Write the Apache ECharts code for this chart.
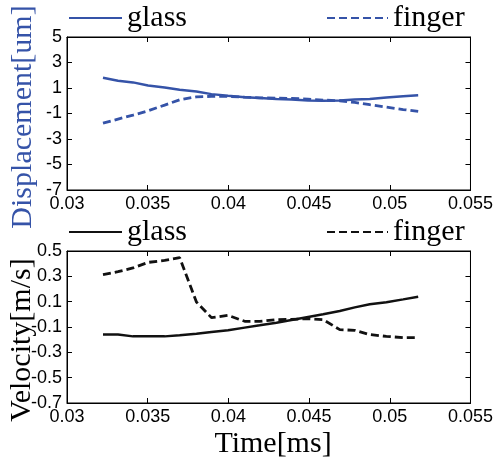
<!DOCTYPE html>
<html>
<head>
<meta charset="utf-8">
<script src="https://cdn.jsdelivr.net/npm/echarts@6/dist/echarts.min.js"></script>
<style>
html,body{margin:0;padding:0;background:#fff;}
#chart{width:496px;height:462px;}
</style>
</head>
<body>
<div id="chart"></div>
<script>
// Time samples [ms]
var time = [0.03223, 0.03316, 0.03409, 0.03502, 0.03605, 0.03698, 0.03802, 0.03895, 0.03998, 0.04101, 0.04194, 0.04298, 0.04391, 0.04494, 0.04587, 0.04690, 0.04783, 0.04876, 0.04979, 0.05083, 0.05176];
// Displacement [um]
var dispGlass = [1.80, 1.57, 1.44, 1.20, 1.04, 0.86, 0.73, 0.52, 0.39, 0.28, 0.21, 0.13, 0.10, 0.02, 0.00, 0.02, 0.10, 0.13, 0.26, 0.36, 0.44];
var dispFinger = [-1.76, -1.44, -1.13, -0.79, -0.34, 0.07, 0.31, 0.34, 0.34, 0.28, 0.23, 0.21, 0.18, 0.13, 0.05, 0.00, -0.13, -0.31, -0.50, -0.69, -0.84];
// Velocity [m/s]
var velGlass = [-0.160, -0.160, -0.174, -0.174, -0.174, -0.166, -0.153, -0.140, -0.126, -0.105, -0.087, -0.066, -0.045, -0.021, 0.000, 0.026, 0.055, 0.079, 0.095, 0.118, 0.139];
var velFinger = [0.313, 0.337, 0.366, 0.410, 0.426, 0.447, 0.097, -0.026, -0.008, -0.055, -0.055, -0.042, -0.040, -0.034, -0.042, -0.121, -0.126, -0.160, -0.174, -0.184, -0.184];
// Axis ranges / labels
var xRange = {min: 0.03, max: 0.055, interval: 0.005};
var dispRange = {min: -7, max: 5, interval: 2};
var velRange = {min: -0.7, max: 0.5, interval: 0.2};
var legendNames = ['glass', 'finger'];
var axisTitles = {disp: 'Displacement[um]', vel: 'Velocity[m/s]', time: 'Time[ms]'};

var BLUE = '#3553a8';
var BLACK = '#111111';
var SERIF = '"Liberation Serif","Times New Roman",serif';
var SANS = '"Liberation Sans",Arial,sans-serif';

function pairs(xs, ys) { return xs.map(function (x, i) { return [x, ys[i]]; }); }

var chart = echarts.init(document.getElementById('chart'));

function xAx(grid, pos, showLabel) {
  return {
    type: 'value', gridIndex: grid, position: pos,
    min: xRange.min, max: xRange.max, interval: xRange.interval,
    axisLine: {show: true, onZero: false, lineStyle: {color: '#000', width: 1}},
    axisTick: {show: true, inside: true, length: 5, lineStyle: {color: '#000', width: 1}},
    axisLabel: {show: showLabel, color: '#000', fontFamily: SANS, fontSize: 18, margin: 5},
    splitLine: {show: false}
  };
}
function yAx(grid, pos, range, showLabel) {
  return {
    type: 'value', gridIndex: grid, position: pos,
    min: range.min, max: range.max, interval: range.interval,
    axisLine: {show: true, onZero: false, lineStyle: {color: '#000', width: 1}},
    axisTick: {show: true, inside: true, length: 5, lineStyle: {color: '#000', width: 1}},
    axisLabel: {show: showLabel, color: '#000', fontFamily: SANS, fontSize: 18, margin: 5},
    splitLine: {show: false}
  };
}

function legend(top, left, name, width) {
  return {
    top: top, left: left, padding: 0, itemWidth: width, itemHeight: 14,
    selectedMode: false,
    itemStyle: {opacity: 0},
    formatter: function (n) { return n.replace(/^v-/, ''); },
    textStyle: {fontFamily: SERIF, fontSize: 30, color: '#000'},
    data: [name]
  };
}

function title(x, y, text, color, rot) {
  return {
    type: 'text', x: x, y: y, rotation: rot ? Math.PI / 2 : 0, silent: true,
    style: {text: text, fill: color, font: '30px ' + SERIF, align: 'center', verticalAlign: 'middle'}
  };
}

var option = {
  animation: false,
  backgroundColor: '#fff',
  grid: [
    {left: 67, right: 25, top: 37, height: 153, show: true, borderColor: '#000', borderWidth: 1, backgroundColor: 'transparent'},
    {left: 67, right: 25, top: 251, height: 152, show: true, borderColor: '#000', borderWidth: 1, backgroundColor: 'transparent'}
  ],
  legend: [
    legend(3, 68, legendNames[0], 53),
    legend(3, 326, legendNames[1], 61),
    legend(217, 68, 'v-' + legendNames[0], 53),
    legend(217, 326, 'v-' + legendNames[1], 61)
  ],
  xAxis: [
    xAx(0, 'bottom', true),
    xAx(0, 'top', false),
    xAx(1, 'bottom', true),
    xAx(1, 'top', false)
  ],
  yAxis: [
    yAx(0, 'left', dispRange, true),
    yAx(0, 'right', dispRange, false),
    yAx(1, 'left', velRange, true),
    yAx(1, 'right', velRange, false)
  ],
  graphic: [
    title(23, 117, axisTitles.disp, BLUE, true),
    title(22, 340, axisTitles.vel, '#000', true),
    title(273, 444, axisTitles.time, '#000', false)
  ],
  series: [
    {name: legendNames[0], type: 'line', xAxisIndex: 0, yAxisIndex: 0, symbol: 'none',
     lineStyle: {color: BLUE, width: 2.5}, itemStyle: {color: BLUE}, data: pairs(time, dispGlass)},
    {name: legendNames[1], type: 'line', xAxisIndex: 0, yAxisIndex: 0, symbol: 'none',
     lineStyle: {color: BLUE, width: 2.8, type: [8, 4]}, itemStyle: {color: BLUE}, data: pairs(time, dispFinger)},
    {name: 'v-' + legendNames[0], type: 'line', xAxisIndex: 2, yAxisIndex: 2, symbol: 'none',
     lineStyle: {color: BLACK, width: 2.5}, itemStyle: {color: BLACK}, data: pairs(time, velGlass)},
    {name: 'v-' + legendNames[1], type: 'line', xAxisIndex: 2, yAxisIndex: 2, symbol: 'none',
     lineStyle: {color: BLACK, width: 2.8, type: [8, 4]}, itemStyle: {color: BLACK}, data: pairs(time, velFinger)}
  ]
};
chart.setOption(option);
</script>
</body>
</html>
